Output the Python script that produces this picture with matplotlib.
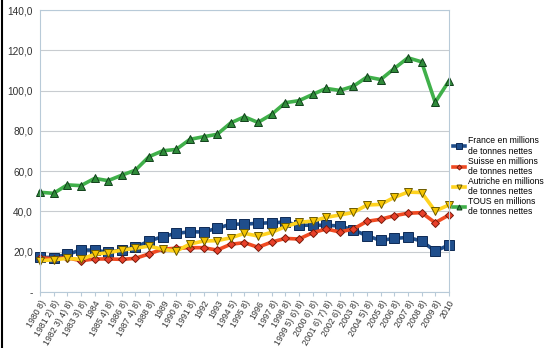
import matplotlib
matplotlib.use("Agg")
import matplotlib.pyplot as plt
from matplotlib.ticker import FuncFormatter

years = ["1980 8)", "1981 2) 8)", "1982 3) 4) 8)", "1983 3) 8)", "1984", "1985 4) 8)",
         "1986 8)", "1987 4) 8)", "1988 8)", "1989", "1990 8)", "1991 8)", "1992", "1993",
         "1994 5)", "1995 8)", "1996", "1997 8)", "1998 8)", "1999 5) 6) 8)", "2000 6) 8)",
         "2001 6) 7) 8)", "2002 6) 8)", "2003 8)", "2004 5) 8)", "2005 8)", "2006 8)",
         "2007 8)", "2008 8)", "2009 8)", "2010"]

france = [17.2, 17.1, 18.7, 20.8, 20.8, 19.7, 20.8, 22.2, 25.3, 27.5, 29.1, 29.9, 29.8, 31.6,
          33.7, 33.7, 34.1, 34.4, 34.7, 33.1, 33.2, 33.1, 32.8, 30.8, 27.9, 25.6, 26.6, 27.1,
          25.3, 20.3, 23.3]
suisse = [17.0, 16.5, 17.0, 15.5, 16.4, 16.4, 16.2, 16.7, 18.9, 21.3, 21.7, 22.0, 22.0, 20.8,
          23.7, 24.5, 22.2, 24.8, 26.6, 26.3, 29.4, 31.3, 29.8, 31.3, 35.1, 36.1, 37.9, 39.1,
          39.4, 34.4, 38.2]
autriche = [15.5, 16.0, 16.7, 16.2, 18.7, 19.5, 20.8, 21.7, 22.8, 21.2, 20.3, 23.8, 25.3, 25.5,
            26.9, 29.1, 27.8, 29.6, 32.4, 34.6, 35.2, 37.1, 38.2, 39.5, 43.2, 43.5, 47.0, 49.6,
            49.4, 40.2, 43.2]
tous = [49.5, 49.0, 53.2, 52.8, 56.4, 55.3, 58.0, 60.5, 67.2, 70.1, 70.8, 75.8, 77.1, 78.3,
        84.0, 87.0, 84.2, 88.2, 94.0, 95.0, 98.1, 101.1, 100.1, 102.2, 106.8, 105.5, 111.0,
        116.3, 114.3, 94.2, 104.7]

labels = ["France en millions\nde tonnes nettes", "Suisse en millions\nde tonnes nettes",
          "Autriche en millions\nde tonnes nettes", "TOUS en millions\nde tonnes nettes"]

plt.rcParams["font.family"] = ["Liberation Sans", "DejaVu Sans"]

fig = plt.figure(figsize=(5.48, 3.48), dpi=100)
ax = fig.add_axes([0.073, 0.161, 0.746, 0.81])

x = range(len(years))
series = [
    (france, "s", "#1f4e8c", "#1f4e8c", "#0d2a55", 6.5),
    (suisse, "D", "#f04a22", "#e8402a", "#7a1a0a", 4.2),
    (autriche, "v", "#ffd320", "#f5c400", "#6b5a00", 6),
    (tous, "^", "#40b04a", "#2f8a3a", "#10401a", 6),
]
for (vals, mk, lc, fc, ec, ms), lab in zip(series, labels):
    ax.plot(x, vals, color=lc, lw=2.6, marker=mk, ms=ms, mfc=fc, mec=ec, mew=0.7,
            label=lab, clip_on=False)

ax.set_ylim(0, 140)
ax.set_xlim(0, len(years) - 1)
ax.set_yticks(range(0, 141, 20))
ax.yaxis.set_major_formatter(FuncFormatter(lambda v, p: "-" if v == 0 else f"{v:.1f}".replace(".", ",")))
ax.grid(axis="y", color="#c8ccd0", lw=0.8)
ax.set_axisbelow(True)
for s in ax.spines.values():
    s.set_color("#b8cad8")
    s.set_linewidth(0.8)

ax.set_xticks(list(x))
ax.set_xticklabels(years, rotation=60, ha="right", rotation_mode="anchor", fontsize=6.3,
                   color="#333333")
ax.tick_params(axis="x", length=3, color="#b8cad8", pad=2)
ax.tick_params(axis="y", length=0, labelsize=7.3, labelcolor="#333333", pad=5)

leg = ax.legend(loc="center left", bbox_to_anchor=(1.0, 0.41), frameon=False, fontsize=6.2,
                handlelength=1.4, handletextpad=0.35, labelspacing=0.1, markerscale=0.6,
                borderaxespad=0.1)

fig.add_artist(plt.Line2D([0.004, 0.004], [0, 1], color="black", lw=1.5))

fig.savefig("out.png", dpi=100)
